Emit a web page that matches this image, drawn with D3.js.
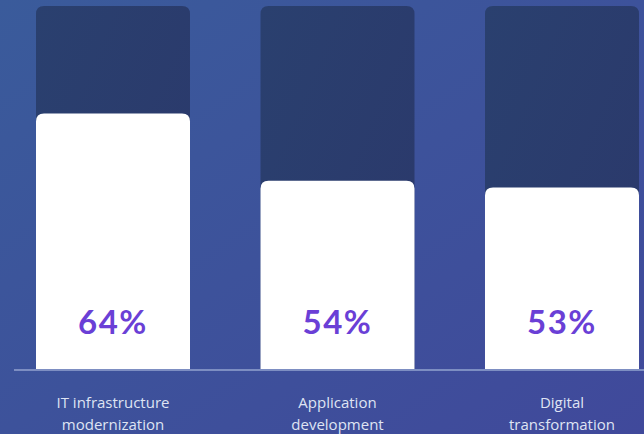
<!DOCTYPE html>
<html>
<head>
<meta charset="utf-8">
<script src="https://cdn.jsdelivr.net/npm/d3@7/dist/d3.min.js"></script>
<style>
  html, body { margin: 0; padding: 0; background: #3b549c; }
  svg { display: block; }
</style>
</head>
<body>
<svg id="chart" width="644" height="434"></svg>
<script>
// Survey shares by investment area
const categories = ["IT infrastructure modernization", "Application development", "Digital transformation"];
const labelLines = [["IT infrastructure", "modernization"], ["Application", "development"], ["Digital", "transformation"]];
const values = [64, 54, 53];

const W = 644, H = 434;
const svg = d3.select("#chart");

// Background gradient
const defs = svg.append("defs");
const bg = defs.append("linearGradient").attr("id", "bg")
  .attr("x1", "0%").attr("y1", "0%").attr("x2", "100%").attr("y2", "100%");
bg.append("stop").attr("offset", "0%").attr("stop-color", "#3a5b9b");
bg.append("stop").attr("offset", "100%").attr("stop-color", "#40499b");
const tr = defs.append("linearGradient").attr("id", "track")
  .attr("x1", "0%").attr("y1", "0%").attr("x2", "100%").attr("y2", "100%");
tr.append("stop").attr("offset", "0%").attr("stop-color", "#2a406f");
tr.append("stop").attr("offset", "100%").attr("stop-color", "#2b386b");

svg.append("rect").attr("width", W).attr("height", H).attr("fill", "url(#bg)");

const x = d3.scaleBand().domain(categories).range([36, 639]).paddingInner(0.314).paddingOuter(0);
const y = d3.scaleLinear().domain([26, 80]).range([369, 6]);

const r = 8;
// Rounded-top bar path
function topRounded(x0, y0, w, h, rad) {
  const rr = Math.min(rad, h / 2, w / 2);
  return `M${x0},${y0 + h}V${y0 + rr}Q${x0},${y0} ${x0 + rr},${y0}H${x0 + w - rr}Q${x0 + w},${y0} ${x0 + w},${y0 + rr}V${y0 + h}Z`;
}

const g = svg.append("g");

// Full-height tracks
g.selectAll("path.track").data(categories).join("path")
  .attr("class", "track")
  .attr("fill", "url(#track)")
  .attr("d", d => topRounded(x(d), y(80), x.bandwidth(), y(26) - y(80), r));

// Value bars
g.selectAll("path.bar").data(values).join("path")
  .attr("class", "bar")
  .attr("fill", "#ffffff")
  .attr("d", (v, i) => topRounded(x(categories[i]), y(v), x.bandwidth(), y(26) - y(v), r));

// Baseline
svg.append("line")
  .attr("x1", 14).attr("x2", W).attr("y1", 370).attr("y2", 370)
  .attr("stroke", "#7d8ec2").attr("stroke-width", 2);

// Value labels
g.selectAll("text.val").data(values).join("text")
  .attr("class", "val")
  .attr("x", (v, i) => x(categories[i]) + x.bandwidth() / 2)
  .attr("y", 334)
  .attr("text-anchor", "middle")
  .attr("font-family", "Lato, 'Open Sans', sans-serif")
  .attr("font-weight", 700)
  .attr("font-size", 33)
  .attr("letter-spacing", 1.5)
  .attr("fill", "#6a3fd6")
  .text(v => `${v}%`);

// Category labels (two lines)
const cat = g.selectAll("text.cat").data(labelLines).join("text")
  .attr("class", "cat")
  .attr("text-anchor", "middle")
  .attr("font-family", "'Open Sans', Lato, sans-serif")
  .attr("font-size", 15)
  .attr("fill", "#dfe4f3");
cat.each(function(lines, i) {
  const cx = x(categories[i]) + x.bandwidth() / 2;
  d3.select(this).selectAll("tspan").data(lines).join("tspan")
    .attr("x", cx)
    .attr("y", (d, j) => 408 + j * 22)
    .text(d => d);
});
</script>
</body>
</html>
